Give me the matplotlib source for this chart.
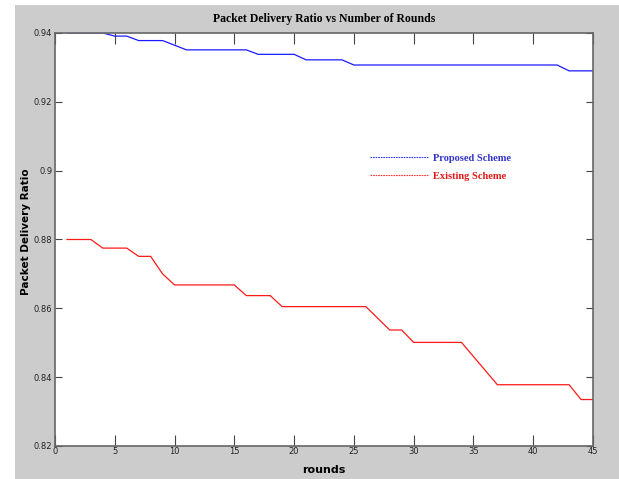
import numpy as np
import matplotlib
matplotlib.use("Agg")
import matplotlib.pyplot as plt
from matplotlib.lines import Line2D
from matplotlib.patches import Rectangle

# rounds and packet delivery ratio for each scheme
rounds_prop = [1, 4, 5, 6, 7, 9, 11, 16, 17, 20, 21, 24, 25, 42, 43, 45]
pdr_prop = [0.94, 0.94, 0.9391, 0.9391, 0.9378, 0.9378, 0.9351, 0.9351,
            0.9338, 0.9338, 0.9322, 0.9322, 0.9307, 0.9307, 0.9290, 0.9290]

rounds_exist = [1, 3, 4, 6, 7, 8, 9, 10, 15, 16, 18, 19, 26, 28, 29, 30,
                34, 37, 43, 44, 45]
pdr_exist = [0.88, 0.88, 0.8775, 0.8775, 0.8751, 0.8751, 0.8700, 0.8668,
             0.8668, 0.8637, 0.8637, 0.8605, 0.8605, 0.8537, 0.8537, 0.8501,
             0.8501, 0.8378, 0.8378, 0.8335, 0.8335]

xticks = np.arange(0, 46, 5)
yticks = [0.82, 0.84, 0.86, 0.88, 0.9, 0.92, 0.94]
yticklabels = ['0.82', '0.84', '0.86', '0.88', '0.9', '0.92', '0.94']

W, H = 619, 479
fig = plt.figure(figsize=(W / 100, H / 100), dpi=100)
fig.patch.set_facecolor('white')
# grey figure panel, leaving a thin white strip on the left and top
fig.add_artist(Rectangle((15 / W, 0), 1, 1 - 5 / H, transform=fig.transFigure,
                         facecolor='#cccccc', edgecolor='none', zorder=-10))

ax = fig.add_axes([55 / W, 1 - 446 / H, 538 / W, 413 / H])
ax.set_facecolor('white')

ax.plot(rounds_prop, pdr_prop, color='#1a1aff', lw=0.9)
ax.plot(rounds_exist, pdr_exist, color='#ff1a1a', lw=0.9)

ax.set_xlim(0, 45)
ax.set_ylim(0.82, 0.94)
ax.set_xticks(xticks)
ax.set_yticks(yticks)
ax.set_yticklabels(yticklabels)
ax.tick_params(direction='in', top=True, right=True, length=5, width=0.8,
               color='#444444', labelsize=6, labelcolor='#222222', pad=2)
ax.tick_params(axis='x', length=8, pad=1)
for s in ax.spines.values():
    s.set_color('#666666')
    s.set_linewidth(1.2)

ax.set_title('Packet Delivery Ratio vs Number of Rounds', family='Liberation Serif',
             fontweight='bold', fontsize=8.5, pad=8)
ax.set_xlabel('rounds', fontweight='bold', fontsize=8)
ax.xaxis.set_label_coords(0.5, -0.045)
ax.set_ylabel('Packet Delivery Ratio', fontweight='bold', fontsize=7.5)
ax.yaxis.set_label_coords(-0.045, 0.52)

handles = [Line2D([], [], color='#3333ff', lw=0.8, dashes=(1.5, 0.8)),
           Line2D([], [], color='#ff3333', lw=0.8, dashes=(1.5, 0.8))]
leg = ax.legend(handles, ['Proposed Scheme', 'Existing Scheme'],
                loc='center left', bbox_to_anchor=(0.5855, 0.675),
                frameon=False, borderpad=0, borderaxespad=0,
                handlelength=5.6, handletextpad=0.45, labelspacing=0.85,
                prop={'family': 'Liberation Serif', 'weight': 'bold', 'size': 7.5})
leg.get_texts()[0].set_color('#3333cc')
leg.get_texts()[1].set_color('#e01818')

fig.savefig('out.png', dpi=100, facecolor=fig.get_facecolor())
